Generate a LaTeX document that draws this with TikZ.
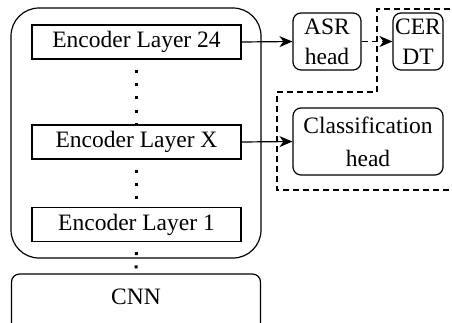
\documentclass[tikz,border=0pt]{standalone}
\usepackage{fontspec}
\setmainfont{Liberation Serif}
\newfontfamily\timesfont{Liberation Serif}
\usetikzlibrary{arrows.meta}
\begin{document}
\begin{tikzpicture}[x=1pt,y=-1pt,
  every node/.style={font=\timesfont\fontsize{23.5}{30}\selectfont, inner sep=0pt, line width=1.2pt},
  layerbox/.style={draw, minimum width=209pt, minimum height=34pt},
  headbox/.style={draw, rounded corners=8pt, align=center},
  arr/.style={line width=1.2pt, -{Stealth[length=13pt,width=11pt,inset=4pt]}},
  dots/.style={line width=3pt, dash pattern=on 3pt off 10.3pt, dash phase=3.3pt},
  dashline/.style={line width=1.2pt, dash pattern=on 6pt off 4pt}]
\clip (0,0) rectangle (452,322);
\node[draw, rounded corners=28pt, minimum width=250pt, minimum height=250pt] (outer) at (136,133) {};
\node[layerbox] (l24) at (136.5,42) {Encoder Layer 24};
\node[layerbox] (lx) at (136.5,142) {Encoder Layer X};
\node[layerbox] (l1) at (136.5,224.5) {Encoder Layer 1};
\node[draw, rounded corners=8pt, minimum width=249pt, minimum height=60pt] (cnn) at (136,304) {};
\node (cnntext) at (136,297) {CNN};
\node[headbox, minimum width=68pt, minimum height=57pt] (asr) at (327,41.5) {ASR\\head};
\node[headbox, minimum width=50pt, minimum height=57pt] (cer) at (418,41.5) {CER\\DT};
\node[headbox, minimum width=150pt, minimum height=67pt] (cls) at (368,141.5) {Classification\\[3pt]head};
\draw[dots] (l24.south) -- (lx.north);
\draw[dots] (lx.south) -- (l1.north);
\draw[dots] (l1.south) -- (cnn.north);
\draw[arr] (l24.east) -- (asr.west);
\draw[arr] (lx.east) -- (cls.west);
\draw[arr, dashline] (asr.east) -- (cer.west);
\coordinate (d1) at (460,9);
\coordinate (d2) at (377,9);
\coordinate (d3) at (377,92);
\coordinate (d4) at (277,92);
\coordinate (d5) at (277,190);
\coordinate (d6) at (460,190);
\draw[dashline] (d1) -- (d2) -- (d3) -- (d4) -- (d5) -- (d6);
\end{tikzpicture}
\end{document}
